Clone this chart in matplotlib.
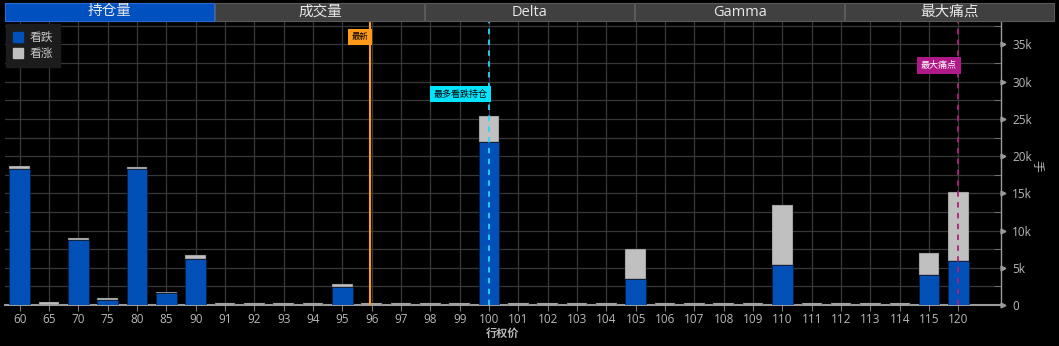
import matplotlib
matplotlib.use("Agg")
import matplotlib.pyplot as plt
from matplotlib.patches import Rectangle
from matplotlib.lines import Line2D
from matplotlib.ticker import FuncFormatter, MultipleLocator
import matplotlib.transforms as mtrans

plt.rcParams['font.family'] = ['Open Sans', 'Noto Sans CJK SC', 'DejaVu Sans']

# ---- data ----
strikes = ["60", "65", "70", "75", "80", "85", "90", "91", "92", "93", "94", "95",
           "96", "97", "98", "99", "100", "101", "102", "103", "104", "105",
           "106", "107", "108", "109", "110", "111", "112", "113", "114", "115", "120"]
puts_oi = [18300, 0, 8700, 700, 18260, 1580, 6240, 0, 0, 0, 0, 2450,
           0, 0, 0, 0, 21860, 0, 0, 0, 0, 3440,
           0, 0, 0, 0, 5360, 0, 0, 0, 0, 4020, 5900]
calls_oi = [350, 350, 350, 200, 300, 200, 530, 300, 300, 300, 300, 370,
            300, 300, 300, 300, 3490, 300, 300, 300, 300, 4060,
            300, 300, 300, 300, 8040, 300, 300, 300, 300, 2950, 9250]
tabs = ["持仓量", "成交量", "Delta", "Gamma", "最大痛点"]
legend_labels = ["看跌", "看涨"]
latest_pos = 11.94          # category position of latest price
max_put_strike = "100"
max_pain_strike = "120"
y_ticks = [0, 5000, 10000, 15000, 20000, 25000, 30000, 35000]

# ---- style ----
BLUE = "#0050b8"
GRAY = "#c0c0c0"
BG = "#000000"
GRID = "#383838"
TXT = "#b8b8b8"

W, H = 1059, 346
fig = plt.figure(figsize=(W / 100, H / 100), dpi=100, facecolor=BG)
ax = fig.add_axes([5 / W, 1 - 305 / H, (1001 - 5) / W, (305 - 21) / H], facecolor=BG)

x = list(range(len(strikes)))
ax.bar(x, puts_oi, width=0.7, color=BLUE, edgecolor="#0a1a3a", linewidth=0.5, zorder=3)
ax.bar(x, calls_oi, width=0.7, bottom=puts_oi, color=GRAY, edgecolor="#333333",
       linewidth=0.3, zorder=3)

ax.set_xlim(-0.5, 33.45)
ax.set_ylim(0, 38150)
ax.set_xticks(x)
ax.set_xticklabels(strikes)
ax.yaxis.set_major_locator(MultipleLocator(5000))
ax.yaxis.set_minor_locator(MultipleLocator(2500))
ax.yaxis.set_major_formatter(FuncFormatter(lambda v, p: "0" if v == 0 else f"{int(v/1000)}k"))
ax.yaxis.tick_right()
ax.yaxis.set_label_position("right")

ax.grid(True, axis='x', color=GRID, linewidth=0.9, zorder=0)
ax.grid(True, axis='y', which='both', color=GRID, linewidth=0.9, zorder=0)

for s in ['top', 'left']:
    ax.spines[s].set_visible(False)
ax.spines['right'].set_color("#9a9a9a")
ax.spines['bottom'].set_color("#9a9a9a")
ax.spines['right'].set_linewidth(1)
ax.spines['bottom'].set_linewidth(1.5)

ax.tick_params(axis='x', colors=TXT, labelsize=8.5, length=4, color="#7a7a7a", pad=2)
ax.tick_params(axis='y', which='major', colors=TXT, labelsize=8.5, length=0, pad=8)
ax.tick_params(axis='y', which='minor', length=5, color="#7a7a7a", direction='in')
for lbl in ax.get_xticklabels() + ax.get_yticklabels():
    lbl.set_color(TXT)

# arrow-shaped major y ticks
blend = mtrans.blended_transform_factory(ax.transAxes, ax.transData)
ax.plot([1.002] * len(y_ticks), y_ticks, linestyle='none', marker='>', markersize=3.5,
        color="#9a9a9a", transform=blend, clip_on=False, zorder=5)

ax.set_xlabel("行权价", color=TXT, fontsize=8, labelpad=2, fontweight='bold')
ax.set_ylabel("手", color=TXT, fontsize=8.5, rotation=270, labelpad=6)
ax.yaxis.set_label_coords(1.043, 0.49)

# latest price line
ax.axvline(latest_pos, color="#ff9a1a", linewidth=1.5, zorder=6)
ax.text(latest_pos - 0.06, 36000, "最新", ha='right', va='center', fontsize=6,
        color="#000000", zorder=7,
        bbox=dict(boxstyle='square,pad=0.45', facecolor="#ff9a1a", edgecolor='none'))

# max put OI line
xp = strikes.index(max_put_strike)
ax.axvline(xp, color="#2ad4ff", linewidth=1.3, linestyle=(0, (3, 3)), zorder=6)
ax.text(xp - 0.06, 28300, "最多看跌持仓", ha='right', va='center', fontsize=6.5,
        color="#000000", zorder=7,
        bbox=dict(boxstyle='square,pad=0.4', facecolor="#00e5ff", edgecolor='none'))

# max pain line
xm = strikes.index(max_pain_strike)
ax.axvline(xm, color="#b0207a", linewidth=1.3, linestyle=(0, (3, 3)), zorder=6)
ax.text(xm - 0.06, 32200, "最大痛点", ha='right', va='center', fontsize=6.5,
        color="#ffffff", zorder=7,
        bbox=dict(boxstyle='square,pad=0.45', facecolor="#b01a88", edgecolor='none'))

# legend
handles = [Line2D([], [], linestyle='none', marker='s', markersize=6.5, color=BLUE),
           Line2D([], [], linestyle='none', marker='s', markersize=6.5, color=GRAY)]
leg = ax.legend(handles, legend_labels, loc='upper left', bbox_to_anchor=(0.0, 0.995),
                fontsize=8.5, frameon=True, facecolor="#1c1c1c", edgecolor="#1c1c1c",
                framealpha=1, handlelength=0.8, handletextpad=0.6, borderpad=0.6,
                labelspacing=0.3, borderaxespad=0.1, fancybox=False)
for t in leg.get_texts():
    t.set_color("#c8c8c8")
leg.set_zorder(10)

# tabs
tab_w = 210
for i, name in enumerate(tabs):
    x0 = 5 + i * tab_w
    active = (i == 0)
    fc = "#0050c0" if active else "#404040"
    ec = "#2a6ad8" if active else "#5a5a5a"
    fig.patches.append(Rectangle((x0 / W, 1 - 20.5 / H), (tab_w - 1) / W, 17.5 / H,
                                 transform=fig.transFigure, facecolor=fc, edgecolor=ec,
                                 linewidth=0.8))
    fig.text((x0 + tab_w / 2) / W, 1 - 12 / H, name, ha='center', va='center',
             fontsize=10.5, color="#e8e8e8")

fig.savefig("out.png", dpi=100, facecolor=BG)
